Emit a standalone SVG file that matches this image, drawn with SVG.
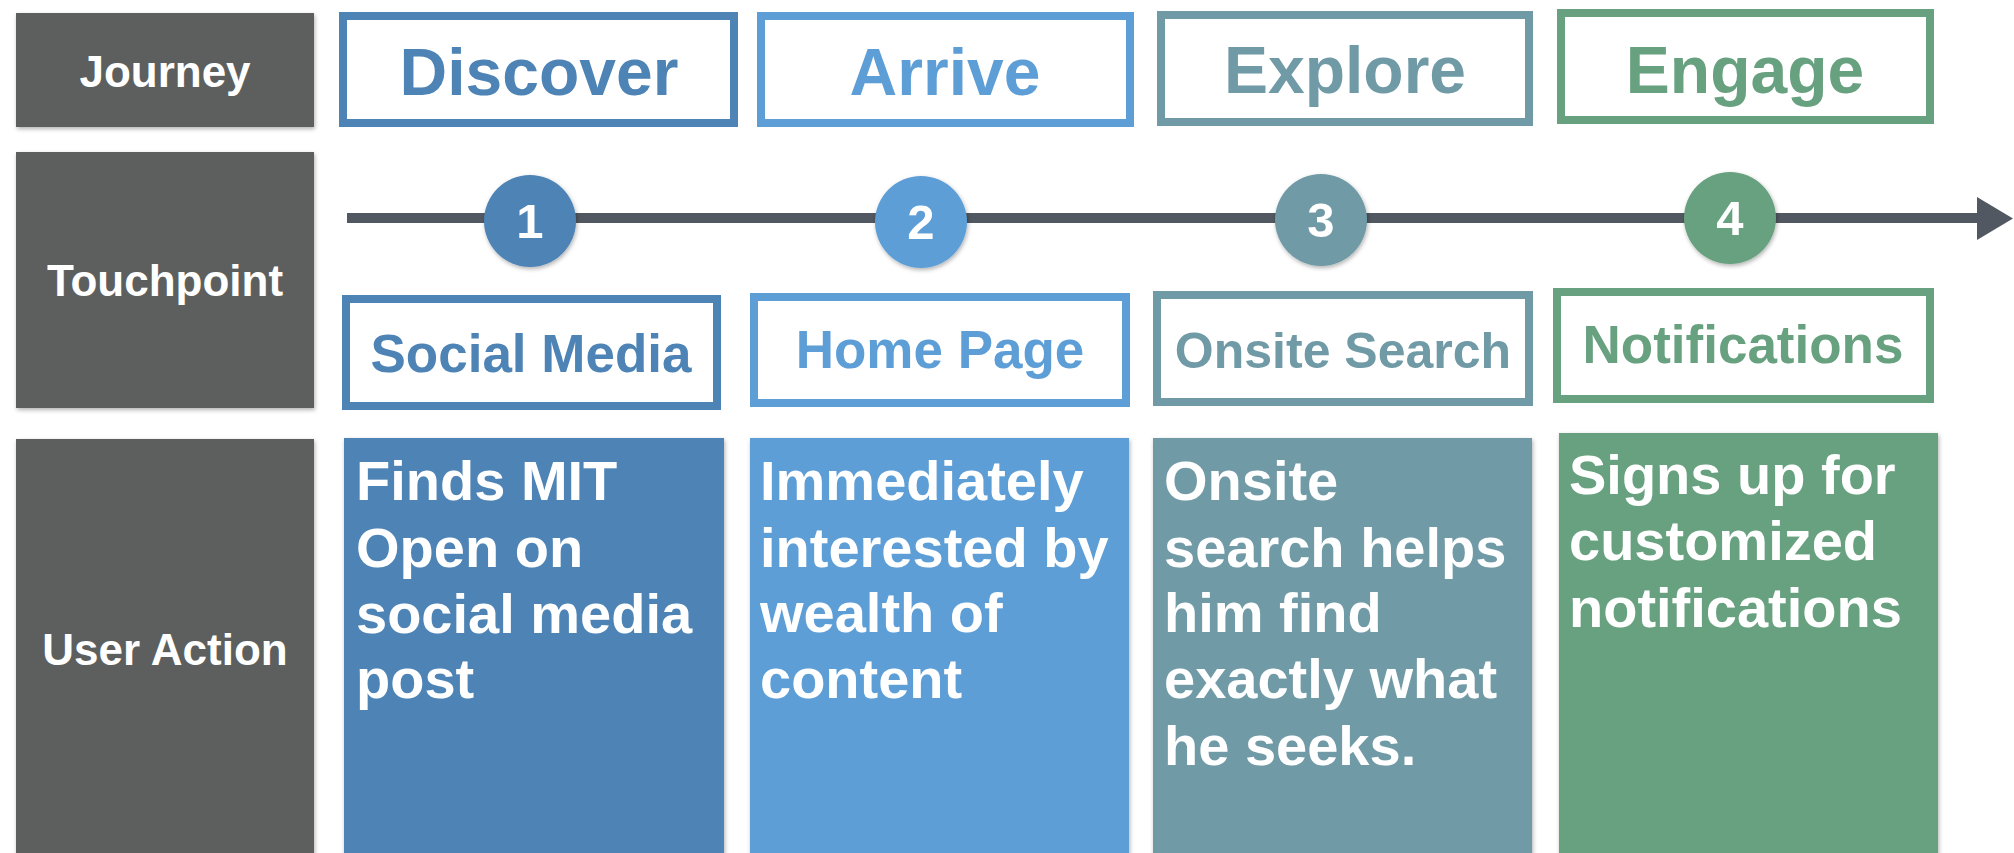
<svg xmlns="http://www.w3.org/2000/svg" width="2014" height="853" viewBox="0 0 2014 853">
<defs>
<filter id="sh" x="-10%" y="-10%" width="120%" height="120%">
<feDropShadow dx="1" dy="2" stdDeviation="2" flood-color="#000" flood-opacity="0.3"/>
</filter>
<style>
text{font-family:"Liberation Sans",Arial,Helvetica,sans-serif;font-weight:bold}
.lab{fill:#5d5f5e;filter:url(#sh)}
.labt{fill:#ffffff;font-size:44px;text-anchor:middle}
.hd{fill:#ffffff;stroke-width:8}
.hdt{font-size:66px;text-anchor:middle}
.tp{fill:#ffffff;stroke-width:8}
.tpt{font-size:53px;text-anchor:middle}
.act{filter:url(#sh)}
.actt{fill:#ffffff;font-size:56px}
.num{fill:#ffffff;font-size:49px;text-anchor:middle}
.c1{fill:#4d83b5}.s1{stroke:#4d83b5}
.c2{fill:#5d9ed6}.s2{stroke:#5d9ed6}
.c3{fill:#6f9aa6}.s3{stroke:#6f9aa6}
.c4{fill:#68a17f}.s4{stroke:#68a17f}
</style>
</defs>
<rect width="2014" height="853" fill="#ffffff"/>

<g id="label-journey"><rect class="lab" x="16" y="13" width="298" height="114"/><text class="labt" x="165" y="87">Journey</text></g>
<g id="label-touchpoint"><rect class="lab" x="16" y="152" width="298" height="256"/><text class="labt" x="165" y="296">Touchpoint</text></g>
<g id="label-action"><rect class="lab" x="16" y="439" width="298" height="420"/><text class="labt" x="165" y="665">User Action</text></g>

<g id="connectors">
<line x1="347" y1="218" x2="1980" y2="218" stroke="#525861" stroke-width="10"/>
<polygon points="1977,197 2013,218.5 1977,240" fill="#525861"/>
</g>

<g id="stage-discover"><rect class="hd s1" x="343" y="16" width="391" height="107"/><text class="hdt c1" x="539" y="95">Discover</text></g>
<g id="stage-arrive"><rect class="hd s2" x="761" y="16" width="369" height="107"/><text class="hdt c2" x="945" y="95">Arrive</text></g>
<g id="stage-explore"><rect class="hd s3" x="1161" y="15" width="368" height="107"/><text class="hdt c3" x="1345" y="93">Explore</text></g>
<g id="stage-engage"><rect class="hd s4" x="1561" y="13" width="369" height="107"/><text class="hdt c4" x="1745" y="93">Engage</text></g>

<g id="point-1"><circle class="c1" cx="530" cy="221" r="46" filter="url(#sh)"/><text class="num" x="530" y="238">1</text></g>
<g id="point-2"><circle class="c2" cx="921" cy="222" r="46" filter="url(#sh)"/><text class="num" x="921" y="239">2</text></g>
<g id="point-3"><circle class="c3" cx="1321" cy="220" r="46" filter="url(#sh)"/><text class="num" x="1321" y="237">3</text></g>
<g id="point-4"><circle class="c4" cx="1730" cy="218" r="46" filter="url(#sh)"/><text class="num" x="1730" y="235">4</text></g>

<g id="touch-social"><rect class="tp s1" x="346" y="299" width="371" height="107"/><text class="tpt c1" x="531" y="372">Social Media</text></g>
<g id="touch-home"><rect class="tp s2" x="754" y="297" width="372" height="106"/><text class="tpt c2" x="940" y="368">Home Page</text></g>
<g id="touch-search"><rect class="tp s3" x="1157" y="295" width="372" height="107"/><text class="tpt c3" x="1343" y="368" style="font-size:50px">Onsite Search</text></g>
<g id="touch-notify"><rect class="tp s4" x="1557" y="292" width="373" height="107"/><text class="tpt c4" x="1743" y="363">Notifications</text></g>

<g id="action-1"><rect class="act c1" x="344" y="438" width="380" height="421"/>
<text class="actt" x="356" y="500">Finds MIT</text><text class="actt" x="356" y="567">Open on</text><text class="actt" x="356" y="633">social media</text><text class="actt" x="356" y="698">post</text></g>
<g id="action-2"><rect class="act c2" x="750" y="438" width="379" height="421"/>
<text class="actt" x="760" y="500">Immediately</text><text class="actt" x="760" y="567">interested by</text><text class="actt" x="760" y="632">wealth of</text><text class="actt" x="760" y="698">content</text></g>
<g id="action-3"><rect class="act c3" x="1153" y="438" width="379" height="421"/>
<text class="actt" x="1164" y="500">Onsite</text><text class="actt" x="1164" y="567">search helps</text><text class="actt" x="1164" y="632">him find</text><text class="actt" x="1164" y="698">exactly what</text><text class="actt" x="1164" y="765">he seeks.</text></g>
<g id="action-4"><rect class="act c4" x="1559" y="433" width="379" height="426"/>
<text class="actt" x="1569" y="494">Signs up for</text><text class="actt" x="1569" y="560">customized</text><text class="actt" x="1569" y="627">notifications</text></g>
</svg>
